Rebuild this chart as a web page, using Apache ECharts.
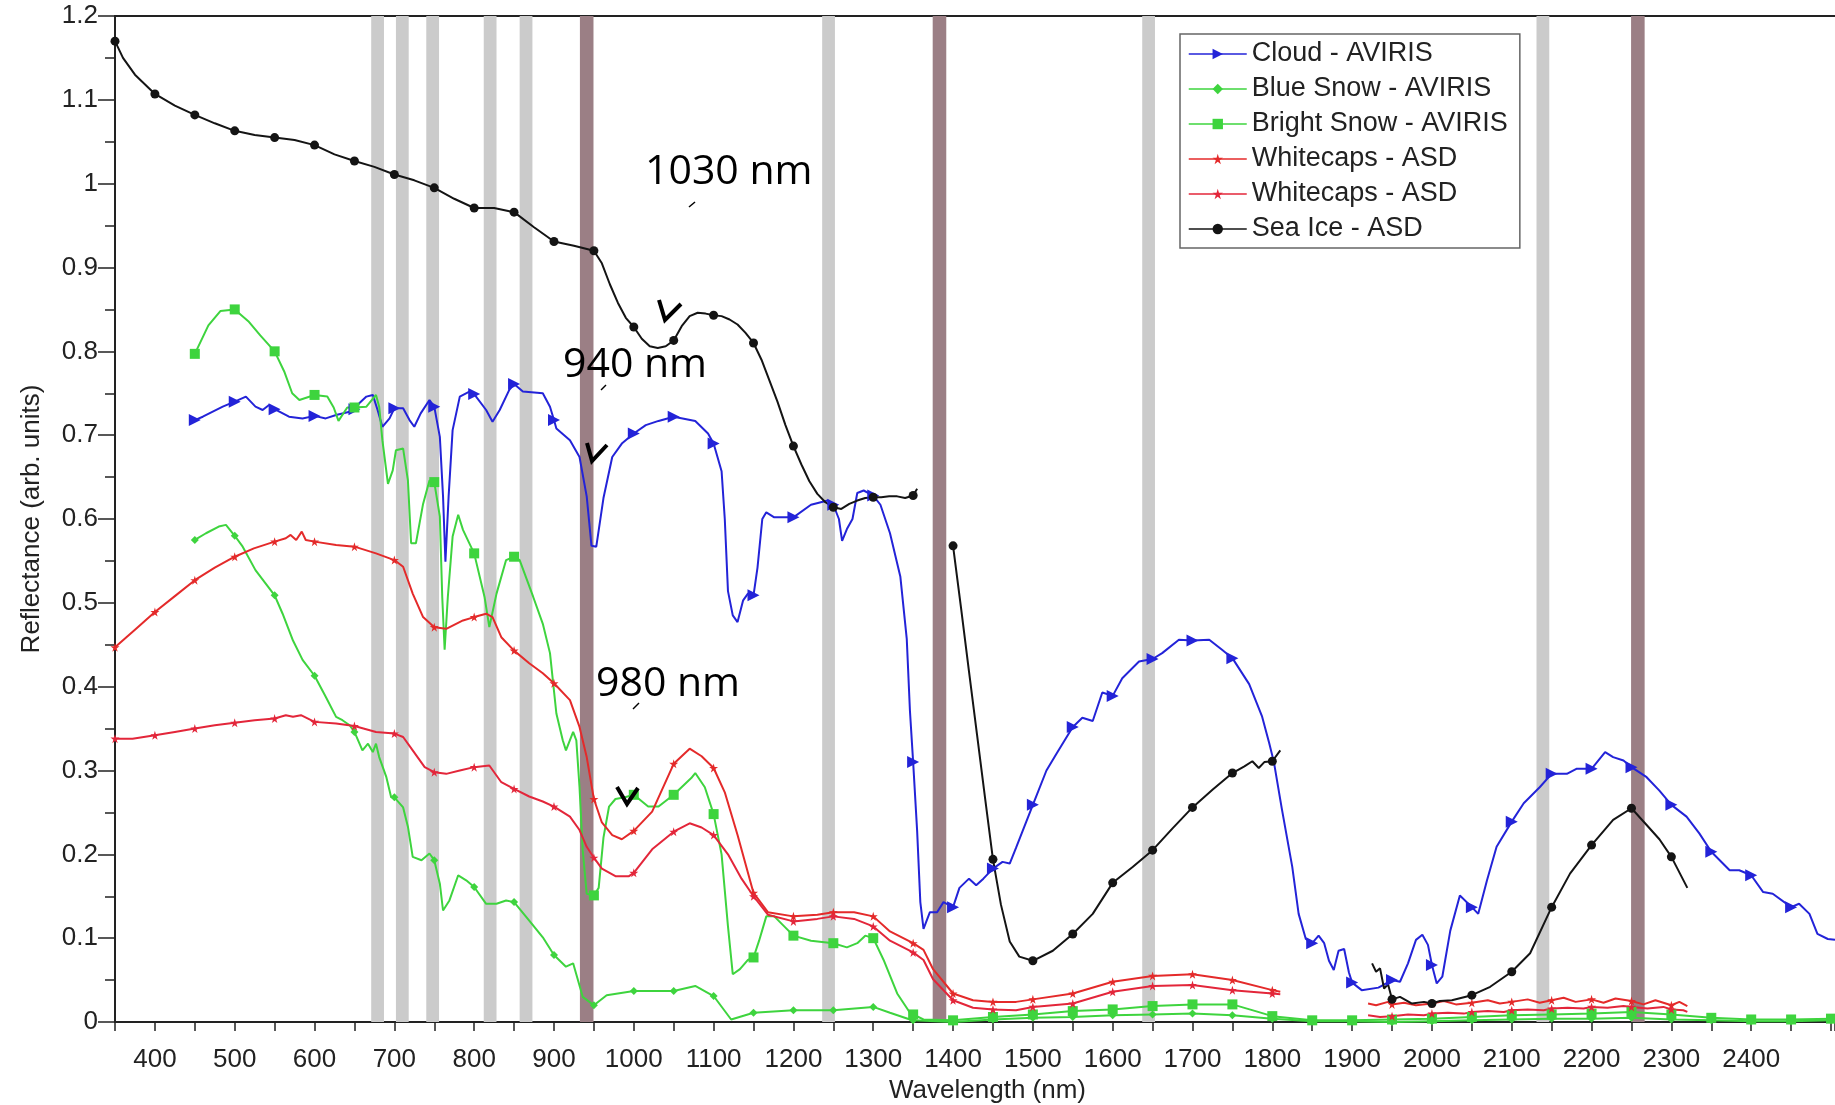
<!DOCTYPE html>
<html>
<head>
<meta charset="utf-8">
<title>Reflectance spectra</title>
<script src="https://cdn.jsdelivr.net/npm/echarts@6/dist/echarts.min.js"></script>
<style>
  html, body { margin: 0; padding: 0; background: #fff; }
  #chart { width: 1835px; height: 1105px; }
</style>
</head>
<body>
<div id="chart"></div>
<script>
// [wavelength nm, reflectance]; '-' breaks a line
const cloud = [
  [450,0.718],[460,0.722],[470,0.727],[485,0.734],[500,0.740],[514,0.746],[526,0.734],[535,0.730],[543,0.736],[550,0.731],
  [568,0.722],[585,0.720],[600,0.723],[614,0.720],[627,0.724],[644,0.728],[650,0.731],[656,0.738],[665,0.746],[673,0.748],
  [679,0.730],[685,0.710],[694,0.720],[700,0.732],[711,0.732],[719,0.718],[725,0.710],[733,0.726],[744,0.742],[750,0.734],
  [757,0.698],[761,0.627],[764,0.549],[768,0.627],[773,0.706],[782,0.746],[794,0.752],[800,0.749],[815,0.730],[823,0.716],
  [832,0.730],[844,0.754],[850,0.761],[861,0.752],[886,0.750],[895,0.734],[900,0.718],[903,0.708],[920,0.694],[932,0.674],
  [941,0.627],[947,0.568],[953,0.567],[962,0.625],[973,0.674],[985,0.690],[1000,0.702],[1015,0.712],[1031,0.717],[1050,0.722],
  [1077,0.717],[1093,0.702],[1100,0.690],[1110,0.657],[1114,0.600],[1118,0.514],[1124,0.485],[1130,0.477],[1137,0.503],[1143,0.511],
  [1150,0.509],[1155,0.542],[1161,0.600],[1166,0.608],[1176,0.602],[1200,0.602],[1222,0.617],[1243,0.622],[1250,0.617],[1257,0.600],
  [1261,0.574],[1267,0.588],[1274,0.600],[1280,0.631],[1288,0.634],[1300,0.628],[1309,0.617],[1321,0.583],[1334,0.531],[1342,0.457],
  [1346,0.371],[1350,0.310],[1355,0.228],[1359,0.143],[1363,0.111],[1371,0.131],[1380,0.131],[1388,0.143],[1400,0.137],[1408,0.160],
  [1420,0.171],[1429,0.163],[1438,0.171],[1450,0.183],[1462,0.191],[1471,0.189],[1479,0.208],[1500,0.259],[1517,0.300],[1529,0.319],
  [1550,0.352],[1562,0.363],[1575,0.359],[1587,0.393],[1600,0.389],[1612,0.410],[1633,0.430],[1650,0.433],[1662,0.440],[1683,0.456],
  [1700,0.455],[1721,0.456],[1737,0.444],[1750,0.434],[1771,0.403],[1787,0.365],[1796,0.333],[1802,0.310],[1812,0.254],[1825,0.185],
  [1833,0.129],[1842,0.099],[1850,0.094],[1858,0.103],[1865,0.094],[1871,0.073],[1877,0.062],[1883,0.085],[1890,0.087],[1896,0.059],
  [1900,0.047],[1912,0.038],[1933,0.041],[1950,0.050],[1960,0.048],[1970,0.070],[1980,0.098],[1988,0.104],[1995,0.092],[2000,0.068],
  [2006,0.046],[2013,0.054],[2023,0.109],[2035,0.151],[2050,0.137],[2058,0.129],[2069,0.169],[2081,0.209],[2100,0.239],[2115,0.261],
  [2135,0.280],[2150,0.296],[2169,0.296],[2181,0.302],[2200,0.302],[2217,0.322],[2227,0.316],[2240,0.312],[2250,0.304],[2269,0.292],
  [2285,0.276],[2300,0.259],[2319,0.245],[2335,0.225],[2350,0.203],[2373,0.181],[2385,0.181],[2400,0.175],[2415,0.155],[2427,0.153],
  [2450,0.137],[2460,0.141],[2473,0.129],[2483,0.105],[2496,0.099],[2505,0.098]
];

const blueSnow = [
  [450,0.575],[464,0.583],[480,0.591],[489,0.593],[500,0.580],[510,0.567],[526,0.539],[550,0.509],[560,0.487],[573,0.455],
  [585,0.432],[600,0.413],[614,0.388],[627,0.364],[635,0.360],[644,0.354],[650,0.346],[660,0.324],[667,0.332],[673,0.322],
  [677,0.332],[681,0.316],[690,0.292],[696,0.268],[700,0.268],[711,0.256],[717,0.233],[723,0.197],[734,0.193],[744,0.201],
  [750,0.193],[757,0.165],[761,0.133],[769,0.145],[780,0.175],[790,0.169],[800,0.161],[815,0.141],[828,0.141],[840,0.145],
  [850,0.143],[869,0.121],[886,0.101],[900,0.080],[915,0.066],[924,0.070],[936,0.030],[950,0.020],[966,0.032],[1000,0.037],
  [1050,0.037],[1077,0.043],[1100,0.031],[1122,0.003],[1150,0.011],[1200,0.014],[1250,0.014],[1300,0.018],[1321,0.011],[1346,0.003],
  [1350,0.002],[1400,0.000],[1450,0.003],[1500,0.005],[1550,0.006],[1600,0.008],[1650,0.009],[1700,0.010],[1750,0.008],[1800,0.004],
  [1850,0.001],[1900,0.001],[1950,0.000],[2000,0.001],[2050,0.002],[2100,0.003],[2150,0.004],[2200,0.004],[2250,0.005],[2300,0.003],
  [2350,0.002],[2400,0.001],[2450,0.001],[2500,0.002],[2505,0.002]
];

const brightSnow = [
  [450,0.797],[460,0.817],[467,0.831],[482,0.848],[500,0.850],[517,0.836],[532,0.819],[550,0.800],[562,0.776],[572,0.750],
  [581,0.742],[600,0.748],[616,0.746],[624,0.733],[630,0.717],[641,0.733],[650,0.733],[665,0.734],[677,0.748],[681,0.734],
  [685,0.694],[692,0.642],[698,0.658],[702,0.682],[711,0.684],[717,0.646],[721,0.571],[727,0.571],[736,0.618],[744,0.646],
  [750,0.644],[757,0.603],[760,0.507],[763,0.444],[767,0.507],[773,0.579],[780,0.605],[786,0.587],[794,0.571],[800,0.559],
  [813,0.507],[819,0.471],[828,0.511],[840,0.551],[850,0.555],[857,0.551],[874,0.507],[886,0.475],[895,0.440],[899,0.404],
  [903,0.368],[911,0.336],[915,0.324],[924,0.346],[928,0.336],[932,0.280],[936,0.205],[941,0.153],[950,0.151],[956,0.160],
  [962,0.220],[969,0.257],[977,0.266],[989,0.268],[1000,0.271],[1018,0.257],[1031,0.257],[1050,0.271],[1072,0.291],[1077,0.297],
  [1089,0.280],[1100,0.248],[1110,0.200],[1118,0.114],[1124,0.057],[1133,0.063],[1143,0.074],[1150,0.077],[1157,0.097],[1166,0.126],
  [1176,0.126],[1200,0.103],[1222,0.097],[1250,0.094],[1267,0.089],[1280,0.094],[1290,0.103],[1300,0.100],[1313,0.074],[1330,0.034],
  [1346,0.011],[1350,0.009],[1363,0.003],[1400,0.002],[1450,0.006],[1500,0.009],[1550,0.013],[1600,0.015],[1650,0.019],[1700,0.021],
  [1750,0.021],[1779,0.013],[1800,0.007],[1850,0.002],[1900,0.002],[1950,0.003],[2000,0.004],[2050,0.006],[2100,0.008],[2150,0.009],
  [2200,0.010],[2250,0.012],[2300,0.009],[2350,0.005],[2400,0.003],[2450,0.003],[2500,0.004],[2505,0.004]
];

const whitecapsA = [
  [350,0.447],[375,0.468],[400,0.489],[425,0.508],[450,0.527],[475,0.542],[500,0.555],[524,0.565],[550,0.573],[564,0.577],
  [570,0.581],[577,0.575],[584,0.585],[589,0.575],[600,0.573],[627,0.569],[650,0.567],[677,0.559],[700,0.551],[711,0.543],
  [723,0.511],[736,0.483],[750,0.471],[765,0.469],[786,0.479],[800,0.483],[815,0.487],[823,0.483],[834,0.459],[850,0.443],
  [869,0.428],[886,0.416],[900,0.404],[920,0.384],[932,0.352],[941,0.316],[950,0.266],[960,0.238],[973,0.223],[985,0.218],
  [1000,0.228],[1023,0.251],[1050,0.308],[1070,0.326],[1085,0.317],[1100,0.303],[1114,0.274],[1130,0.223],[1150,0.154],[1168,0.131],
  [1200,0.126],[1230,0.128],[1250,0.131],[1276,0.131],[1300,0.126],[1321,0.108],[1350,0.094],[1363,0.086],[1375,0.063],[1400,0.034],
  [1425,0.026],[1450,0.024],[1479,0.024],[1500,0.027],[1550,0.034],[1600,0.048],[1650,0.055],[1700,0.057],[1750,0.050],[1800,0.038],
  [1810,0.036],[1815,'-'],
  [1920,0.022],[1930,0.020],[1945,0.024],[1950,0.021],[1965,0.023],[1980,0.020],[2000,0.022],[2015,0.025],[2030,0.021],[2050,0.023],
  [2070,0.026],[2085,0.022],[2100,0.024],[2120,0.027],[2135,0.023],[2150,0.026],[2165,0.029],[2180,0.024],[2200,0.027],[2215,0.023],
  [2230,0.028],[2250,0.025],[2265,0.021],[2280,0.026],[2300,0.020],[2310,0.024],[2320,0.019]
];

const whitecapsB = [
  [350,0.338],[372,0.338],[400,0.342],[425,0.346],[450,0.350],[475,0.354],[500,0.357],[525,0.360],[550,0.362],[564,0.366],
  [573,0.364],[583,0.366],[600,0.358],[627,0.356],[650,0.353],[677,0.346],[700,0.344],[711,0.340],[723,0.324],[738,0.304],
  [750,0.298],[765,0.296],[782,0.300],[800,0.304],[819,0.306],[834,0.286],[850,0.278],[869,0.269],[886,0.263],[900,0.257],
  [920,0.245],[932,0.229],[941,0.209],[950,0.196],[960,0.183],[977,0.174],[994,0.174],[1000,0.178],[1023,0.206],[1050,0.227],
  [1070,0.237],[1085,0.232],[1100,0.223],[1118,0.200],[1135,0.171],[1150,0.150],[1168,0.128],[1200,0.120],[1230,0.123],[1250,0.126],
  [1276,0.123],[1300,0.114],[1321,0.097],[1350,0.083],[1363,0.074],[1375,0.051],[1400,0.026],[1425,0.017],[1450,0.015],[1479,0.014],
  [1500,0.018],[1550,0.022],[1600,0.036],[1650,0.043],[1700,0.044],[1750,0.038],[1800,0.034],[1810,0.033],[1815,'-'],
  [1920,0.008],[1935,0.006],[1950,0.007],[1970,0.009],[1990,0.008],[2000,0.010],[2020,0.011],[2040,0.010],[2050,0.012],[2070,0.013],
  [2090,0.012],[2100,0.014],[2120,0.015],[2140,0.014],[2150,0.016],[2170,0.017],[2190,0.016],[2200,0.018],[2220,0.017],[2240,0.019],
  [2250,0.018],[2270,0.016],[2290,0.018],[2300,0.015],[2315,0.014],[2320,0.012]
];

const seaIce = [
  [350,1.170],[360,1.150],[375,1.130],[400,1.107],[425,1.093],[450,1.082],[475,1.072],[500,1.063],[525,1.058],[550,1.055],
  [575,1.052],[600,1.046],[625,1.035],[650,1.027],[675,1.020],[700,1.011],[725,1.004],[750,0.995],[775,0.982],[800,0.971],
  [825,0.971],[850,0.966],[875,0.948],[900,0.931],[925,0.926],[950,0.920],[960,0.905],[970,0.880],[980,0.858],[990,0.840],
  [1000,0.829],[1010,0.815],[1020,0.806],[1030,0.804],[1040,0.806],[1050,0.813],[1060,0.830],[1070,0.842],[1080,0.846],[1090,0.845],
  [1100,0.843],[1110,0.842],[1120,0.838],[1130,0.832],[1140,0.822],[1150,0.810],[1160,0.790],[1170,0.765],[1180,0.740],[1190,0.712],
  [1200,0.687],[1210,0.665],[1220,0.645],[1230,0.630],[1240,0.620],[1250,0.614],[1260,0.612],[1270,0.618],[1280,0.622],[1290,0.625],
  [1300,0.626],[1310,0.626],[1320,0.627],[1330,0.627],[1340,0.625],[1350,0.628],[1355,0.636],[1375,'-'],
  [1400,0.568],[1410,0.494],[1420,0.418],[1430,0.343],[1440,0.268],[1450,0.194],[1460,0.140],[1471,0.096],[1483,0.078],[1500,0.073],
  [1525,0.085],[1550,0.105],[1575,0.129],[1600,0.166],[1625,0.185],[1650,0.205],[1675,0.231],[1700,0.256],[1725,0.277],[1750,0.297],
  [1765,0.305],[1775,0.311],[1783,0.303],[1790,0.310],[1800,0.311],[1810,0.324],[1815,'-'],
  [1925,0.070],[1930,0.060],[1935,0.064],[1940,0.040],[1945,0.045],[1950,0.027],[1960,0.030],[1975,0.022],[1990,0.024],[2000,0.022],
  [2010,0.025],[2025,0.026],[2050,0.032],[2073,0.042],[2100,0.060],[2123,0.082],[2150,0.137],[2173,0.177],[2200,0.211],[2227,0.241],
  [2250,0.255],[2269,0.235],[2285,0.218],[2300,0.197],[2320,0.160]
];

// absorption band centres (nm)
const lightBands = [679, 710, 748, 820, 865, 1244, 1645, 2139];
const darkBands = [941, 1383, 2258];

const seriesNames = ['Cloud - AVIRIS', 'Blue Snow - AVIRIS', 'Bright Snow - AVIRIS', 'Whitecaps - ASD', 'Whitecaps - ASD ', 'Sea Ice - ASD'];

const FONT = '"Liberation Sans", Arial, sans-serif';
const AXIS = '#222';
const STAR = 'path://M50,0 L61,35 L98,35 L68,57 L79,91 L50,70 L21,91 L32,57 L2,35 L39,35 Z';

function spectrum(name, data, color, symbol, size, extra) {
  return Object.assign({
    name: name,
    type: 'line',
    data: data,
    symbol: symbol,
    showSymbol: true,
    showAllSymbol: true,
    symbolSize: function (v) { return v[0] % 50 === 0 ? size : 0; },
    lineStyle: { color: color, width: 2 },
    itemStyle: { color: color },
    connectNulls: false,
    clip: true,
    z: 3,
    emphasis: { disabled: true }
  }, extra || {});
}

const bandAreas = lightBands.map(c => [{ xAxis: c - 8, itemStyle: { color: '#cbcbcb' } }, { xAxis: c + 8 }])
  .concat(darkBands.map(c => [{ xAxis: c - 8.5, itemStyle: { color: '#9b7f85' } }, { xAxis: c + 8.5 }]));

// annotation text and check marks sit above everything
function note(text, x, y) {
  return { type: 'text', z: 100, x: x, y: y,
    style: { text: text, fontSize: 41, fontFamily: '"Open Sans"', fill: '#000', verticalAlign: 'middle' } };
}
function check(points) {
  return { type: 'polyline', z: 100, shape: { points: points },
    style: { stroke: '#000', lineWidth: 4, fill: null } };
}
function tick(x1, y1, x2, y2) {
  return { type: 'line', z: 100, shape: { x1: x1, y1: y1, x2: x2, y2: y2 },
    style: { stroke: '#000', lineWidth: 1.5 } };
}

const chart = echarts.init(document.getElementById('chart'));

const option = {
  animation: false,
  backgroundColor: '#fff',
  grid: { left: 115, right: 0, top: 16, bottom: 83, outerBoundsMode: 'none' },
  legend: {
    orient: 'vertical',
    left: 1180,
    top: 34,
    padding: [5, 12, 4, 8],
    itemWidth: 58,
    itemHeight: 13,
    itemGap: 5,
    backgroundColor: '#fff',
    borderColor: '#666',
    borderWidth: 1.5,
    borderRadius: 0,
    lineStyle: { width: 1.5 },
    textStyle: { fontFamily: FONT, fontSize: 27, color: '#222', lineHeight: 30 },
    data: seriesNames
  },
  xAxis: [{
    type: 'value',
    min: 350,
    max: 2505,
    interval: 50,
    name: 'Wavelength (nm)',
    nameLocation: 'middle',
    nameGap: 55,
    nameTextStyle: { fontFamily: FONT, fontSize: 26, color: '#222', padding: [0, 0, 0, 25] },
    splitLine: { show: false },
    axisLine: { lineStyle: { color: AXIS, width: 2 } },
    axisTick: { length: 9, lineStyle: { color: AXIS, width: 1.5 } },
    axisLabel: {
      margin: 25,
      fontFamily: FONT,
      fontSize: 26,
      color: '#222',
      formatter: v => (v % 100 === 0 && v < 2500 ? String(v) : '')
    }
  }, {
    type: 'value',
    position: 'top',
    min: 350,
    max: 2505,
    axisLine: { show: true, lineStyle: { color: AXIS, width: 2 } },
    axisTick: { show: false },
    axisLabel: { show: false },
    splitLine: { show: false }
  }],
  yAxis: {
    type: 'value',
    min: 0,
    max: 1.2,
    interval: 0.1,
    name: 'Reflectance (arb. units)',
    nameLocation: 'middle',
    nameRotate: 90,
    nameGap: 70,
    nameTextStyle: { fontFamily: FONT, fontSize: 26, color: '#222' },
    splitLine: { show: false },
    axisLine: { show: true, lineStyle: { color: AXIS, width: 2 } },
    axisTick: { show: true, length: 17, lineStyle: { color: AXIS, width: 1.5 } },
    minorTick: { show: true, splitNumber: 2, length: 10, lineStyle: { color: AXIS, width: 1.5 } },
    axisLabel: { margin: 17, fontFamily: FONT, fontSize: 26, color: '#222' }
  },
  series: [
    spectrum(seriesNames[0], cloud, '#2323d8', 'triangle', 12, {
      symbolRotate: -90,
      markArea: { silent: true, z: 1, data: bandAreas }
    }),
    spectrum(seriesNames[1], blueSnow, '#3ed43e', 'diamond', 8),
    spectrum(seriesNames[2], brightSnow, '#3ed43e', 'rect', 10),
    spectrum(seriesNames[3], whitecapsA, '#e42a2a', STAR, 9),
    spectrum(seriesNames[4], whitecapsB, '#e3263a', STAR, 9),
    spectrum(seriesNames[5], seaIce, '#141414', 'circle', 9)
  ],
  graphic: [
    note('1030 nm', 645, 172),
    note('940 nm', 563, 365),
    note('980 nm', 596, 684),
    check([[659, 300], [665, 320], [681, 304]]),
    check([[587, 443], [592, 461], [607, 445]]),
    check([[617, 787], [627, 804], [638, 788]]),
    tick(689, 207, 695, 202),
    tick(601, 390, 606, 385),
    tick(633, 709, 639, 703)
  ]
};

chart.setOption(option);
</script>
</body>
</html>
